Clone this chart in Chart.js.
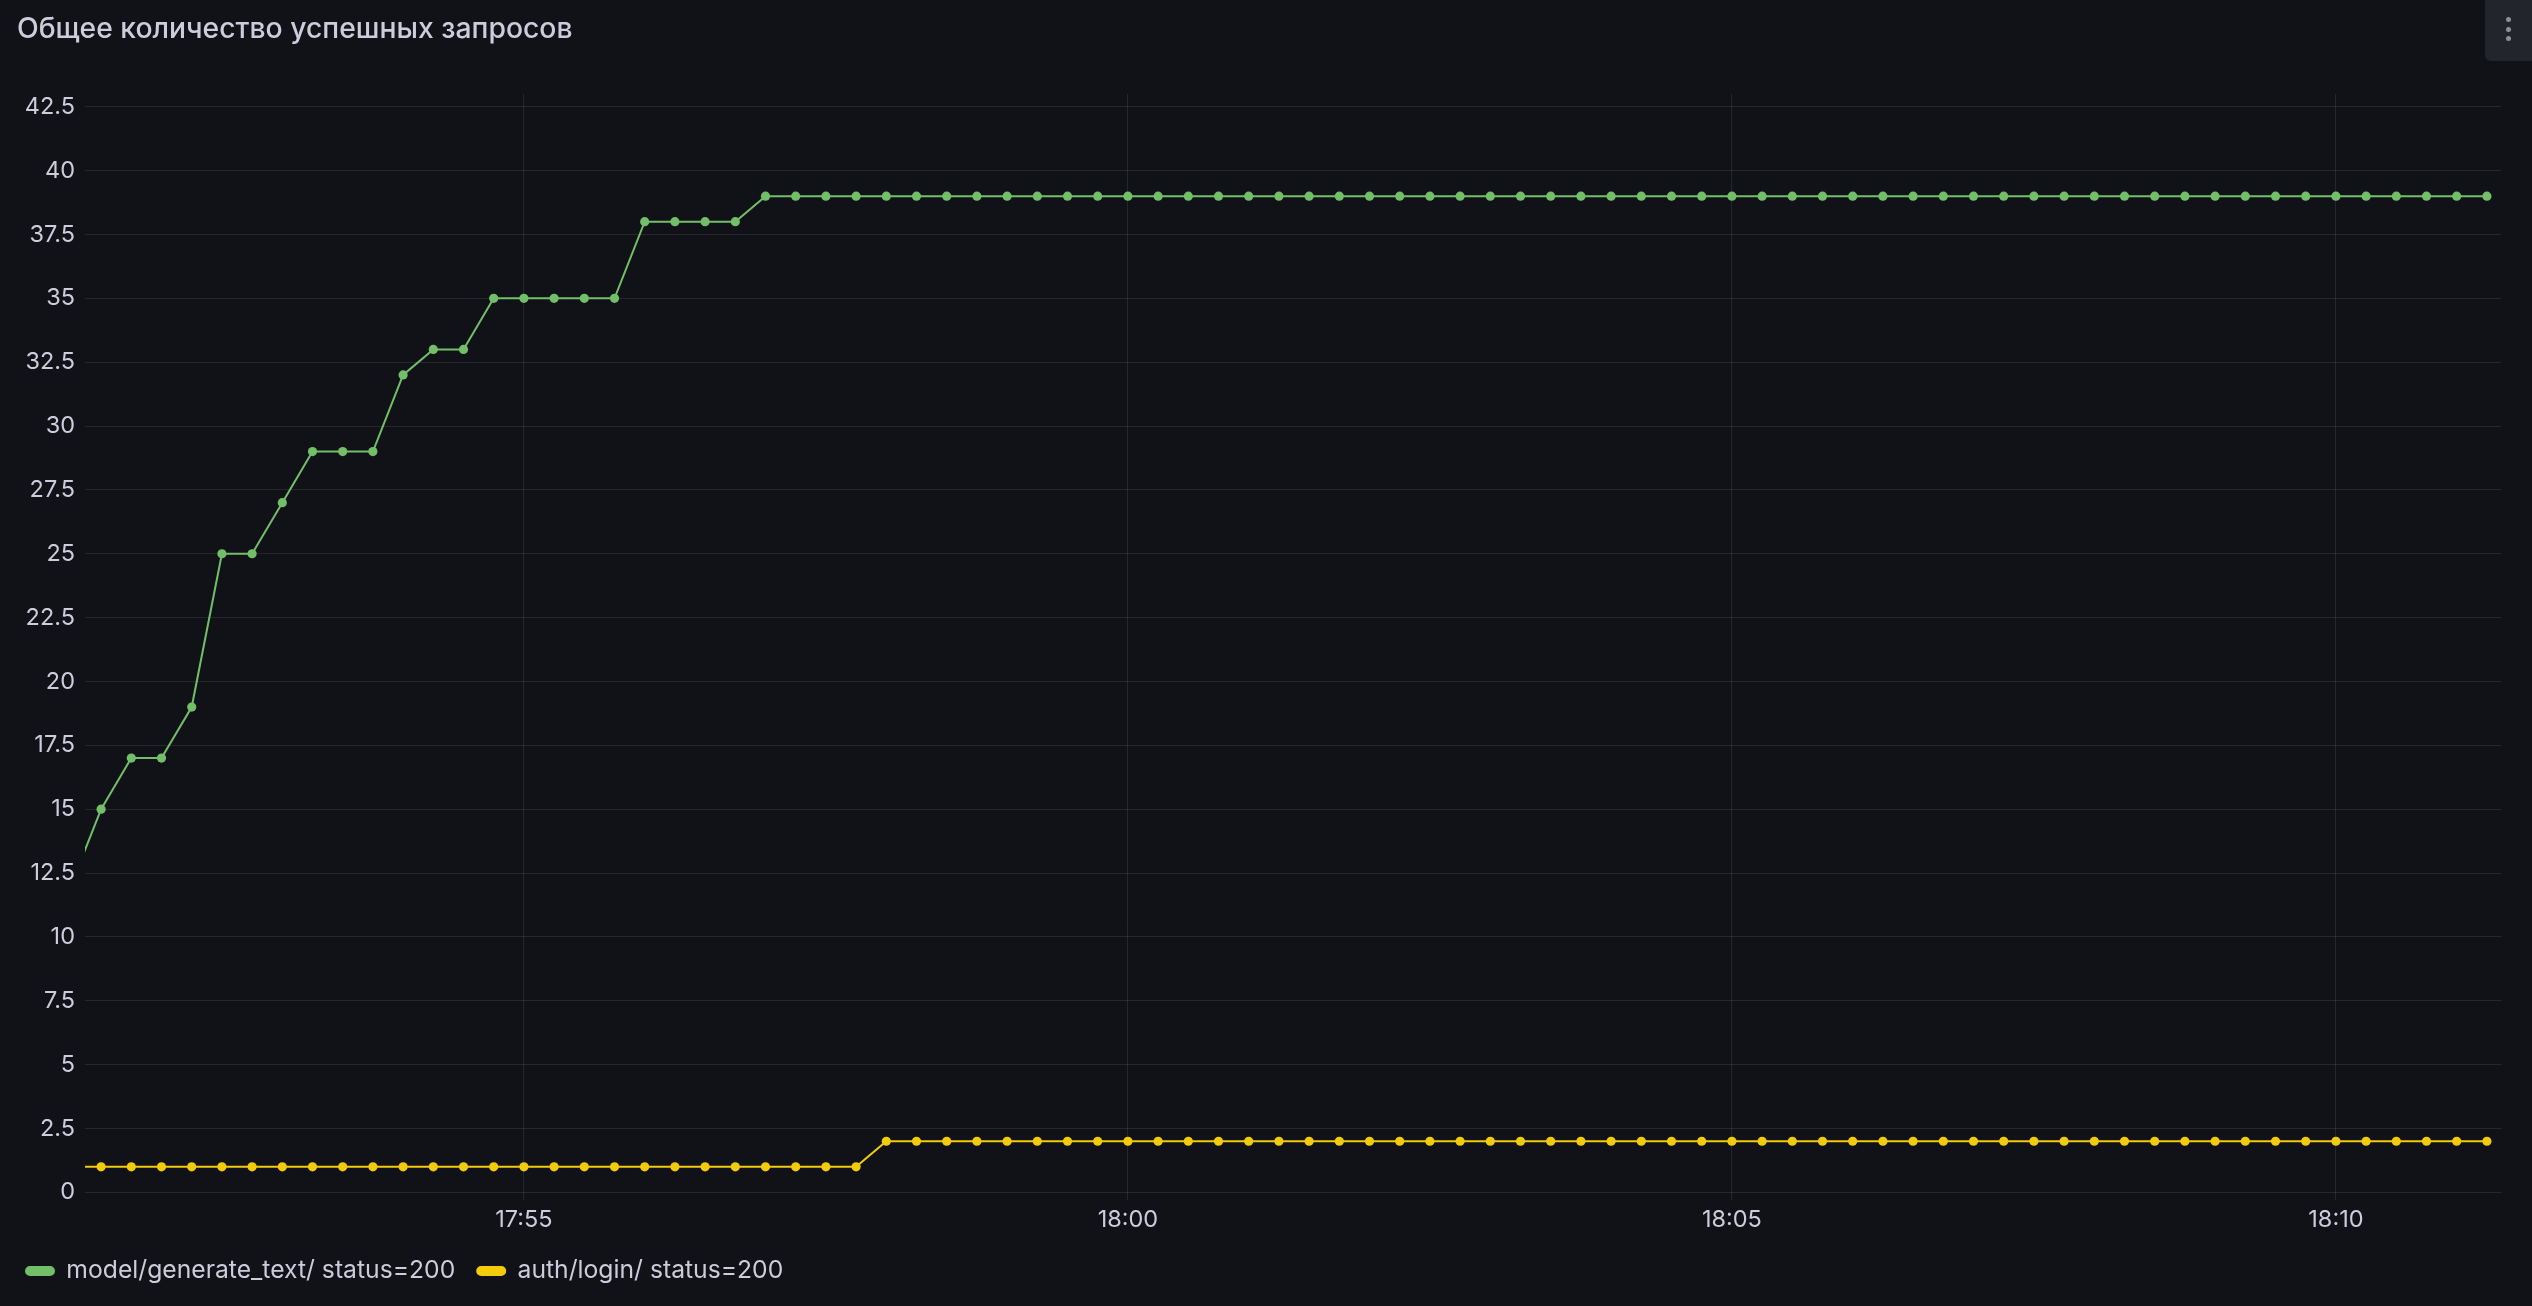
<!DOCTYPE html>
<html>
<head>
<meta charset="utf-8">
<script src="https://cdn.jsdelivr.net/npm/chart.js@4.4.1/dist/chart.umd.min.js"></script>
<style>
  html, body { margin: 0; padding: 0; background: #111217; }
  #panel { position: relative; width: 2532px; height: 1306px; background: #111217; overflow: hidden; }
  #title {
    position: absolute; left: 17px; top: 10px;
    font-family: Inter, sans-serif; font-size: 28.3px; font-weight: 500;
    color: #ccccdc; line-height: 36px; white-space: nowrap;
  }
  #menu {
    position: absolute; left: 2485px; top: 0; width: 47px; height: 61px;
    background: #22252b; border-bottom-left-radius: 6px;
  }
  #menu span {
    position: absolute; left: 21px; width: 5px; height: 5px;
    border-radius: 50%; background: #8e8e99;
  }
</style>
</head>
<body>
<div id="panel">
  <canvas id="chartResults"></canvas>
  <div id="title">Общее количество успешных запросов</div>
  <div id="menu"><span style="top:17px"></span><span style="top:26.5px"></span><span style="top:36px"></span></div>
</div>
<script>
'use strict';

// sampling: every 15 s, first sample sits just left of the visible range
const startTime = '17:51:15';
const stepSeconds = 15;
const rangeStart = '17:51:22';
const rangeEnd = '18:11:22';

const seriesNames = ['model/generate_text/ status=200', 'auth/login/ status=200'];
const seriesColors = ['#73BF69', '#F2CC0C'];

const generateTextValues = [
    12, 15, 17, 17, 19, 25, 25, 27, 29, 29, 29, 32, 33, 33, 35, 35, 35, 35, 35, 38, 38, 38, 38,
    39, 39, 39, 39, 39, 39, 39, 39, 39, 39, 39, 39, 39, 39, 39, 39, 39, 39, 39, 39,
    39, 39, 39, 39, 39, 39, 39, 39, 39, 39, 39, 39, 39, 39, 39, 39, 39, 39, 39, 39,
    39, 39, 39, 39, 39, 39, 39, 39, 39, 39, 39, 39, 39, 39, 39, 39, 39, 39
];
const authLoginValues = [
    1, 1, 1, 1, 1, 1, 1, 1, 1, 1, 1, 1, 1, 1, 1, 1, 1, 1, 1, 1, 1, 1, 1, 1, 1, 1, 1,
    2, 2, 2, 2, 2, 2, 2, 2, 2, 2, 2, 2, 2, 2, 2, 2, 2, 2, 2, 2, 2, 2, 2, 2, 2, 2, 2,
    2, 2, 2, 2, 2, 2, 2, 2, 2, 2, 2, 2, 2, 2, 2, 2, 2, 2, 2, 2, 2, 2, 2, 2, 2, 2, 2
];

const yTickValues = [0, 2.5, 5, 7.5, 10, 12.5, 15, 17.5, 20, 22.5, 25, 27.5, 30, 32.5, 35, 37.5, 40, 42.5];
const xTickLabels = ['17:55', '18:00', '18:05', '18:10'];

function toSeconds(text) {
    let parts = text.split(':').map(Number);
    return parts[0] * 3600 + parts[1] * 60 + (parts[2] || 0);
}

function toClock(seconds) {
    let h = Math.floor(seconds / 3600);
    let m = Math.floor((seconds % 3600) / 60);
    return `${String(h).padStart(2, '0')}:${String(m).padStart(2, '0')}`;
}

let timeArray = [];
for (let i = 0; i < generateTextValues.length; i++) {
    timeArray.push(toSeconds(startTime) + i * stepSeconds);
}

function makeDataset(name, values, color) {
    let points = [];
    for (let i = 0; i < values.length; i++) {
        points.push({ x: timeArray[i], y: values[i] });
    }
    return {
        label: name,
        data: points,
        borderColor: color,
        backgroundColor: color,
        borderWidth: 2,
        pointRadius: 4.6,
        pointBorderWidth: 0,
        pointBackgroundColor: color,
        tension: 0,
    };
}

const textColor = '#ccccdc';
const gridColor = 'rgba(240, 250, 255, 0.09)';
Chart.defaults.font.family = 'Inter, sans-serif';

const config = {
    type: 'line',
    data: {
        datasets: [
            makeDataset(seriesNames[0], generateTextValues, seriesColors[0]),
            makeDataset(seriesNames[1], authLoginValues, seriesColors[1]),
        ]
    },
    options: {
        responsive: false,
        animation: false,
        layout: { padding: { left: 4, right: 31, top: 94, bottom: 12.65 } },
        plugins: {
            tooltip: { enabled: false },
            title: { display: false },
            legend: {
                position: 'bottom',
                align: 'start',
                labels: {
                    color: textColor,
                    font: { size: 24.7 },
                    boxWidth: 28,
                    boxHeight: 8,
                    useBorderRadius: true,
                    borderRadius: 4,
                    padding: 22,
                },
            },
        },
        scales: {
            x: {
                type: 'linear',
                min: toSeconds(rangeStart),
                max: toSeconds(rangeEnd),
                grid: { color: gridColor, lineWidth: 1, drawTicks: false },
                border: { display: false },
                afterBuildTicks: (scale) => {
                    scale.ticks = xTickLabels.map((t) => ({ value: toSeconds(t) }));
                },
                afterFit: (scale) => { scale.height = 36.65; },
                ticks: {
                    color: textColor,
                    font: { size: 23.5 },
                    padding: 5.9,
                    maxRotation: 0,
                    autoSkip: false,
                    callback: (value) => toClock(value),
                },
            },
            y: {
                min: -0.3,
                max: 43,
                grid: { color: gridColor, lineWidth: 1, drawTicks: false },
                border: { display: false },
                afterBuildTicks: (scale) => {
                    scale.ticks = yTickValues.map((v) => ({ value: v }));
                },
                afterFit: (scale) => { scale.width = 81; },
                ticks: {
                    color: textColor,
                    font: { size: 23.5 },
                    padding: 10,
                    callback: (value) => String(value),
                },
            },
        },
    },
};

let canvas = document.getElementById('chartResults');
canvas.width = 2532;
canvas.height = 1306;
const chartResults = new Chart(canvas, config);
</script>
</body>
</html>
